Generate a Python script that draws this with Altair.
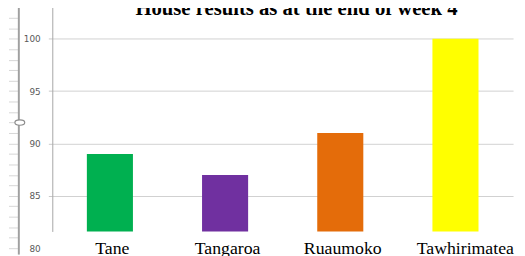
import altair as alt
import pandas as pd

TITLE = "House results as at the end of week 4"
HOUSES = ["Tane", "Tangaroa", "Ruaumoko", "Tawhirimatea"]
POINTS = [89, 87, 91, 100]
BASE = 81.6
TOP = 103.51
COLORS = ["#00b050", "#7030a0", "#e46c0a", "#ffff00"]
GRID_VALUES = [85, 90, 95, 100]
SLIDER_TICKS = list(range(80, 104))
KNOB = [92]

bars_df = pd.DataFrame({"house": HOUSES, "points": POINTS})
knob_df = pd.DataFrame({"v": KNOB})
title_df = pd.DataFrame({"t": [TITLE]})

bars = alt.Chart(bars_df).mark_bar().encode(
    x=alt.X("house:N", sort=HOUSES, title=None,
            scale=alt.Scale(paddingInner=0.6, paddingOuter=0.3),
            axis=alt.Axis(domain=False, ticks=False, tickSize=0, labelPadding=8,
                          labelFont="Liberation Serif", labelFontSize=18,
                          labelColor="#000000", labelAngle=0, labelBaseline="top",
                          labelOffset={"condition": {"test": "datum.value == 'Tawhirimatea'", "value": 10},
                                       "value": 2.5})),
    y=alt.Y("points:Q", title=None,
            scale=alt.Scale(domain=[BASE, TOP], nice=False, zero=False),
            axis=alt.Axis(values=GRID_VALUES, labels=False, grid=True,
                          gridColor="#d0d0d0", gridWidth=1, tickSize=4,
                          tickColor="#c8c8c8", domainColor="#a6a6a6",
                          orient="left")),
    y2=alt.datum(BASE),
    color=alt.Color("house:N", scale=alt.Scale(domain=HOUSES, range=COLORS), legend=None),
)

knob = alt.Chart(knob_df).mark_point(
    shape="M -1 0 A 1 0.55 0 1 1 1 0 A 1 0.55 0 1 1 -1 0 Z",
    size=100, filled=True, fill="#ffffff", stroke="#8c8c8c", strokeWidth=1.2, opacity=1,
).encode(
    x=alt.value(-33),
    y=alt.Y("v:Q", title=None,
            scale=alt.Scale(domain=[79.43, TOP], range=[256, 0], nice=False, zero=False),
            axis=alt.Axis(orient="left", offset=34.5, values=SLIDER_TICKS,
                          labelExpr="datum.value % 5 == 0 ? datum.label : ''",
                          labelOverlap=False, labelFlush=False, grid=False,
                          tickSize=10, tickColor="#d6d6d6", tickWidth=1,
                          domainColor="#a0a0a0", domainWidth=2,
                          labelPadding=-32.2, labelAlign="right",
                          labelFont="DejaVu Sans", labelFontSize=9,
                          labelColor="#595959")),
)

title = alt.Chart(title_df).mark_text(
    font="Liberation Serif", fontSize=21, fontWeight="bold", color="#000000",
    align="center", baseline="alphabetic",
).encode(text="t:N", x=alt.value(248), y=alt.value(13))

chart = alt.layer(bars, knob, title).resolve_scale(y="independent").properties(
    width=468, height=233,
    background="#ffffff",
    autosize=alt.AutoSizeParams(type="none"),
    padding={"left": 45, "top": -8, "right": 4, "bottom": 23},
).configure_view(strokeWidth=0)

chart.save("out.html", embed_options={"renderer": "svg", "actions": False})
